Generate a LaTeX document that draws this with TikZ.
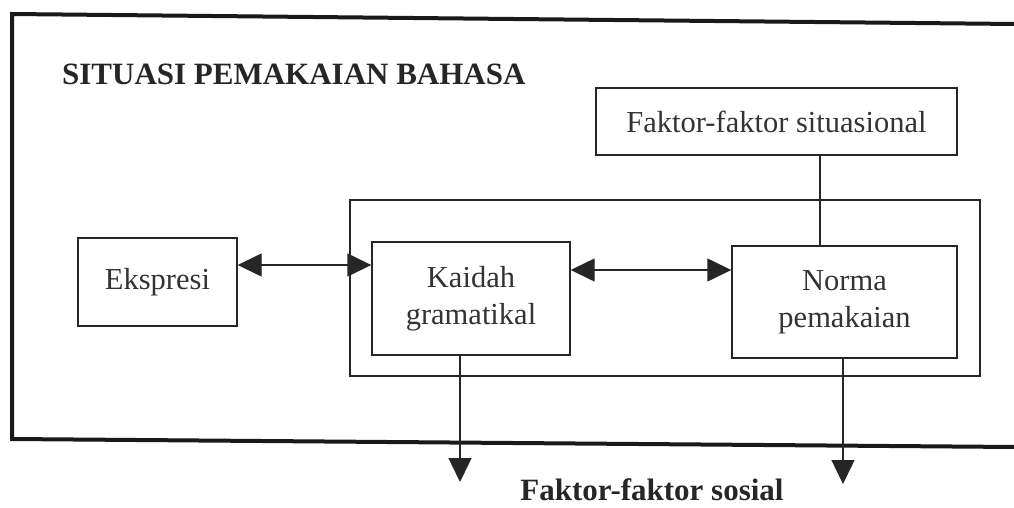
\documentclass[tikz,border=0pt]{standalone}
\usepackage{fontspec}
\setmainfont{Liberation Serif}
\usetikzlibrary{arrows.meta}
\tikzset{
  box/.style={draw=black!85, line width=1.4pt, inner sep=0pt, align=center, font=\fontsize{30.5}{37}\selectfont, text=black!80},
  conn/.style={draw=black!85, line width=1.4pt},
  tri/.style={-{Triangle[length=24pt,width=23pt]}},
  dtri/.style={{Triangle[length=24pt,width=23pt]}-{Triangle[length=24pt,width=23pt]}},
  frame/.style={draw=black!90, line width=4pt, line join=miter},
  heading/.style={font=\fontsize{31}{36}\selectfont\bfseries, text=black!85, inner sep=0pt}
}
\begin{document}
\begin{tikzpicture}[x=1pt,y=-1pt]
\useasboundingbox (0,0) rectangle (1014,507);
% outer frame (open at the right)
\draw[frame] (1016,24) -- (12,14) -- (12,439) -- (1016,447);
% title
\node[heading, anchor=base west] (title) at (62,84) {SITUASI PEMAKAIAN BAHASA};
% boxes
\node[box, minimum width=361pt, minimum height=67pt] (faktor) at (776.5,121.5) {Faktor-faktor situasional};
\node[box, minimum width=630pt, minimum height=176pt] (inner) at (665,288) {};
\node[box, minimum width=159pt, minimum height=88pt] (ekspresi) at (157.5,282) {Ekspresi};
\node[box, minimum width=198pt, minimum height=113pt] (kaidah) at (471,298.5) {Kaidah\\gramatikal};
\node[box, minimum width=225pt, minimum height=112pt] (norma) at (844.5,302) {Norma\\pemakaian};
% bottom label
\node[heading, anchor=base] (sosial) at (652,500) {Faktor-faktor sosial};
% helper coordinates
\coordinate (vl) at (820,0);
\coordinate (h1) at (0,265);
\coordinate (h2) at (0,270);
\coordinate (ka) at (460,0);
\coordinate (no) at (843,0);
\coordinate (tipk) at (460,482);
\coordinate (tipn) at (843,484);
% connectors
\draw[conn] (faktor.south -| vl) -- (norma.north -| vl);
\draw[conn, dtri] (ekspresi.east |- h1) -- (kaidah.west |- h1);
\draw[conn, dtri] (kaidah.east |- h2) -- (norma.west |- h2);
\draw[conn, tri] (kaidah.south -| ka) -- (tipk);
\draw[conn, tri] (norma.south -| no) -- (tipn);
\end{tikzpicture}
\end{document}
